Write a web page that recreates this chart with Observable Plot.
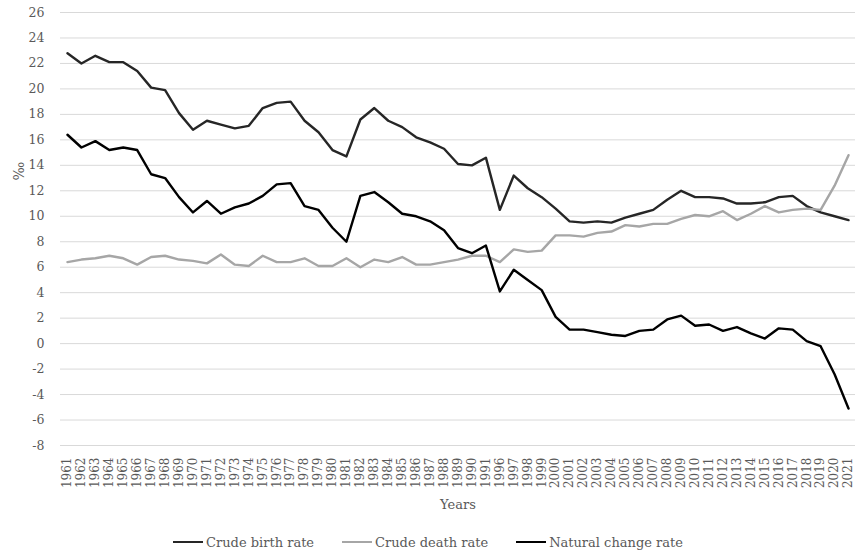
<!DOCTYPE html>
<html>
<head>
<meta charset="utf-8">
<script src="https://cdn.jsdelivr.net/npm/d3@7"></script>
<script src="https://cdn.jsdelivr.net/npm/@observablehq/plot@0.6"></script>
<style>
  body { margin: 0; background: #fff; }
  #chart { width: 856px; font-family: "DejaVu Serif", serif; }
  #legend { display: flex; justify-content: center; align-items: center; gap: 28px; height: 34px; box-sizing: border-box; }
  .item { display: flex; align-items: center; font-size: 13px; color: #595959; }
  .swatch { width: 30px; height: 2.5px; margin-right: 3px; }
</style>
</head>
<body>
<div id="chart"></div>
<script>
const years = [
  "1961","1962","1963","1964","1965","1966","1967","1968","1969","1970",
  "1971","1972","1973","1974","1975","1976","1977","1978","1979","1980",
  "1981","1982","1983","1984","1985","1986","1987","1988","1989","1990",
  "1991","1996","1997","1998","1999","2000","2001","2002","2003","2004",
  "2005","2006","2007","2008","2009","2010","2011","2012","2013","2014",
  "2015","2016","2017","2018","2019","2020","2021"
];
const birthRate = [
  22.8,22.0,22.6,22.1,22.1,21.4,20.1,19.9,18.1,16.8,
  17.5,17.2,16.9,17.1,18.5,18.9,19.0,17.5,16.6,15.2,
  14.7,17.6,18.5,17.5,17.0,16.2,15.8,15.3,14.1,14.0,
  14.6,10.5,13.2,12.2,11.5,10.6,9.6,9.5,9.6,9.5,
  9.9,10.2,10.5,11.3,12.0,11.5,11.5,11.4,11.0,11.0,
  11.1,11.5,11.6,10.8,10.3,10.0,9.7
];
const deathRate = [
  6.4,6.6,6.7,6.9,6.7,6.2,6.8,6.9,6.6,6.5,
  6.3,7.0,6.2,6.1,6.9,6.4,6.4,6.7,6.1,6.1,
  6.7,6.0,6.6,6.4,6.8,6.2,6.2,6.4,6.6,6.9,
  6.9,6.4,7.4,7.2,7.3,8.5,8.5,8.4,8.7,8.8,
  9.3,9.2,9.4,9.4,9.8,10.1,10.0,10.4,9.7,10.2,
  10.8,10.3,10.5,10.6,10.5,12.4,14.8
];
const naturalChange = [
  16.4,15.4,15.9,15.2,15.4,15.2,13.3,13.0,11.5,10.3,
  11.2,10.2,10.7,11.0,11.6,12.5,12.6,10.8,10.5,9.1,
  8.0,11.6,11.9,11.1,10.2,10.0,9.6,8.9,7.5,7.1,
  7.7,4.1,5.8,5.0,4.2,2.1,1.1,1.1,0.9,0.7,
  0.6,1.0,1.1,1.9,2.2,1.4,1.5,1.0,1.3,0.8,
  0.4,1.2,1.1,0.2,-0.2,-2.4,-5.1
];
const yTicks = [-8,-6,-4,-2,0,2,4,6,8,10,12,14,16,18,20,22,24,26];
const seriesNames = ["Crude birth rate", "Crude death rate", "Natural change rate"];
const seriesColors = ["#262626", "#a6a6a6", "#000000"];
const yLabel = "‰";
const xLabel = "Years";

const seriesValues = [birthRate, deathRate, naturalChange];

const plot = Plot.plot({
  width: 856,
  height: 525,
  marginLeft: 60,
  marginRight: 1,
  marginTop: 12,
  marginBottom: 80,
  style: { fontFamily: "DejaVu Serif, serif", fontSize: "12px", color: "#595959", background: "#fff" },
  x: { type: "point", domain: years, padding: 0.5, label: null },
  y: { domain: [-8, 26], label: null },
  marks: [
    Plot.ruleY(yTicks, { stroke: "#d9d9d9", strokeWidth: 1 }),
    Plot.axisY({ ticks: yTicks, tickFormat: d => String(d), tickSize: 0, tickPadding: 16, label: null, fontSize: 12.5 }),
    Plot.axisX({ tickRotate: -90, tickSize: 0, tickPadding: 12, label: null, fontSize: 12 }),
    ...seriesValues.map((vals, s) =>
      Plot.line(years, {
        x: d => d,
        y: (d, i) => vals[i],
        stroke: seriesColors[s],
        strokeWidth: 2.4,
        strokeLinejoin: "round",
        strokeLinecap: "round"
      })
    ),
    Plot.text([yLabel], { frameAnchor: "top-left", dx: -46, dy: 168, rotate: -90, fontSize: 14, fill: "#595959" }),
    Plot.text([xLabel], { frameAnchor: "bottom", dy: 63, fontSize: 13, fill: "#595959" })
  ]
});

const chart = document.getElementById("chart");
chart.appendChild(plot);

const legend = document.createElement("div");
legend.id = "legend";
seriesNames.forEach((name, i) => {
  const item = document.createElement("div");
  item.className = "item";
  const sw = document.createElement("span");
  sw.className = "swatch";
  sw.style.background = seriesColors[i];
  const label = document.createElement("span");
  label.textContent = name;
  item.appendChild(sw);
  item.appendChild(label);
  legend.appendChild(item);
});
chart.appendChild(legend);
</script>
</body>
</html>
